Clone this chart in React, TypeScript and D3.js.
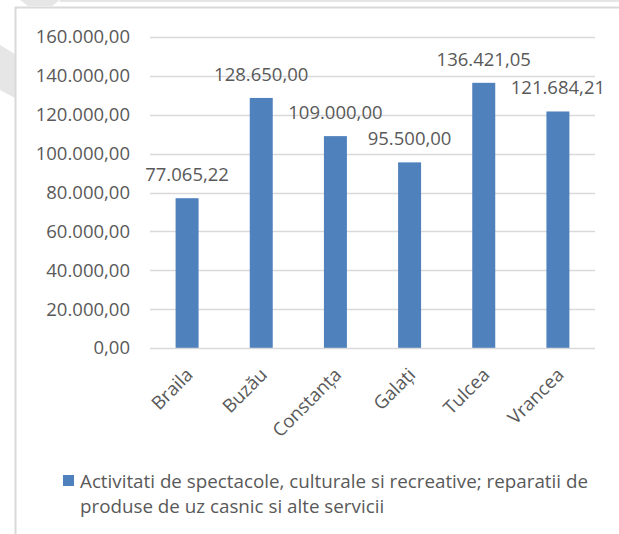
import React from "react";
import * as d3 from "d3";

const categories = ["Braila", "Buzău", "Constanța", "Galați", "Tulcea", "Vrancea"];
const values = [77065.22, 128650.0, 109000.0, 95500.0, 136421.05, 121684.21];
const yTicks = [0, 20000, 40000, 60000, 80000, 100000, 120000, 140000, 160000];
const legendLines = [
  "Activitati de spectacole, culturale si recreative; reparatii de",
  "produse de uz casnic si alte servicii",
];

const W = 619;
const H = 534;
const FONT = "'Open Sans', sans-serif";
const TEXT = "#595959";
const BAR = "#4f81bd";
const FS = 18.5;

const fmt = (v: number) => {
  const f = d3.format(",.2f")(v);
  return f.replace(/,/g, "#").replace(".", ",").replace(/#/g, ".");
};

export default function App() {
  const x = d3.scaleBand<string>().domain(categories).range([150, 595]).paddingInner(0.69).paddingOuter(0.345);
  const y = d3.scaleLinear().domain([0, 160000]).range([348, 37]);
  return (
    <svg width={W} height={H} style={{ position: "absolute", left: 0, top: 0, background: "#fff" }}>
      <polygon points="20,0 60,0 52,6 28,6" fill="#e6e6e6" />
      <polygon points="0,45 15,54 15,98 0,90" fill="#e6e6e6" />
      <line x1={60} x2={619} y1={1} y2={1} stroke="#dddddd" strokeWidth={1.5} />
      <line x1={15.5} x2={15.5} y1={7} y2={534} stroke="#d9d9d9" strokeWidth={2} />
      <line x1={15} x2={619} y1={7.5} y2={7.5} stroke="#d9d9d9" strokeWidth={2} />
      {yTicks.map((t) => (
        <g key={t}>
          {t > 0 && (
            <line x1={150} x2={595} y1={Math.round(y(t)) + 0.5} y2={Math.round(y(t)) + 0.5} stroke="#d9d9d9" strokeWidth={1.5} />
          )}
          <text x={130} y={y(t)} dy="0.35em" textAnchor="end" fontFamily={FONT} fontSize={FS} fill={TEXT}>
            {fmt(t)}
          </text>
        </g>
      ))}
      {categories.map((c, i) => (
        <g key={c}>
          <rect x={x(c)} y={y(values[i])} width={x.bandwidth()} height={y(0) - y(values[i])} fill={BAR} />
          <text x={x(c)! + x.bandwidth() / 2} y={y(values[i]) - 17} textAnchor="middle" fontFamily={FONT} fontSize={FS} fill={TEXT}>
            {fmt(values[i])}
          </text>
          <text
            transform={`translate(${x(c)! + x.bandwidth() / 2 + 7},${376}) rotate(-45)`}
            textAnchor="end"
            fontFamily={FONT}
            fontSize={FS}
            fill={TEXT}
          >
            {c}
          </text>
        </g>
      ))}
      <line x1={150} x2={595} y1={348.5} y2={348.5} stroke="#d9d9d9" strokeWidth={1.5} />
      <rect x={63} y={475} width={11} height={11} fill={BAR} />
      {legendLines.map((l, i) => (
        <text key={i} x={80} y={488 + i * 25} fontFamily={FONT} fontSize={18.8} fill={TEXT}>
          {l}
        </text>
      ))}
    </svg>
  );
}
